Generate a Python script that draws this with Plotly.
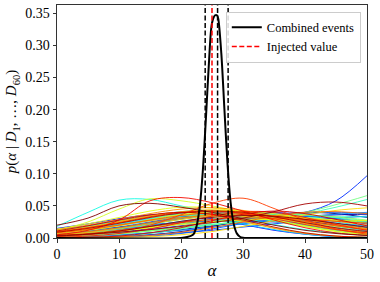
import numpy as np
import plotly.graph_objects as go

# ---- data ----
alpha_grid = [0, 5, 10, 15, 20, 25, 30, 35, 40, 45, 50]

event_posteriors = [
    [0.004, 0.007, 0.012, 0.018, 0.024, 0.029, 0.031, 0.030, 0.026, 0.021, 0.016],
    [0.000, 0.001, 0.002, 0.005, 0.010, 0.018, 0.028, 0.036, 0.040, 0.038, 0.032],
    [0.001, 0.002, 0.004, 0.008, 0.013, 0.019, 0.025, 0.030, 0.034, 0.036, 0.037],
    [0.006, 0.010, 0.016, 0.024, 0.032, 0.037, 0.038, 0.034, 0.027, 0.019, 0.012],
    [0.010, 0.013, 0.017, 0.021, 0.024, 0.026, 0.026, 0.025, 0.023, 0.021, 0.020],
    [0.004, 0.008, 0.014, 0.022, 0.030, 0.036, 0.040, 0.040, 0.036, 0.030, 0.024],
    [0.002, 0.004, 0.008, 0.013, 0.019, 0.025, 0.029, 0.031, 0.030, 0.027, 0.023],
    [0.015, 0.022, 0.030, 0.036, 0.036, 0.030, 0.021, 0.012, 0.006, 0.002, 0.001],
    [0.003, 0.005, 0.009, 0.015, 0.022, 0.029, 0.034, 0.036, 0.034, 0.029, 0.022],
    [0.009, 0.014, 0.021, 0.028, 0.033, 0.034, 0.031, 0.026, 0.020, 0.015, 0.011],
    [0.007, 0.010, 0.014, 0.018, 0.022, 0.026, 0.030, 0.034, 0.040, 0.058, 0.097],
    [0.001, 0.002, 0.003, 0.005, 0.008, 0.012, 0.017, 0.022, 0.027, 0.031, 0.034],
    [0.007, 0.011, 0.017, 0.025, 0.033, 0.039, 0.041, 0.038, 0.031, 0.023, 0.016],
    [0.000, 0.000, 0.001, 0.003, 0.007, 0.014, 0.023, 0.032, 0.038, 0.040, 0.038],
    [0.011, 0.016, 0.023, 0.031, 0.038, 0.041, 0.039, 0.032, 0.023, 0.015, 0.009],
    [0.002, 0.003, 0.005, 0.008, 0.012, 0.017, 0.022, 0.028, 0.033, 0.037, 0.040],
    [0.006, 0.010, 0.015, 0.020, 0.025, 0.029, 0.031, 0.031, 0.030, 0.028, 0.026],
    [0.013, 0.019, 0.027, 0.035, 0.041, 0.043, 0.039, 0.030, 0.020, 0.012, 0.006],
    [0.003, 0.006, 0.011, 0.018, 0.026, 0.033, 0.038, 0.039, 0.036, 0.031, 0.025],
    [0.010, 0.018, 0.027, 0.034, 0.036, 0.031, 0.022, 0.013, 0.006, 0.002, 0.001],
    [0.005, 0.009, 0.015, 0.023, 0.031, 0.037, 0.040, 0.038, 0.032, 0.025, 0.018],
    [0.010, 0.015, 0.022, 0.030, 0.036, 0.038, 0.035, 0.028, 0.020, 0.013, 0.008],
    [0.018, 0.040, 0.059, 0.060, 0.050, 0.040, 0.030, 0.021, 0.013, 0.008, 0.004],
    [0.002, 0.004, 0.007, 0.011, 0.016, 0.021, 0.026, 0.030, 0.032, 0.033, 0.033],
    [0.007, 0.012, 0.019, 0.027, 0.034, 0.038, 0.037, 0.032, 0.025, 0.018, 0.012],
    [0.003, 0.005, 0.008, 0.012, 0.016, 0.021, 0.026, 0.031, 0.038, 0.048, 0.060],
    [0.000, 0.001, 0.003, 0.007, 0.014, 0.023, 0.031, 0.036, 0.036, 0.032, 0.027],
    [0.004, 0.008, 0.014, 0.021, 0.029, 0.035, 0.038, 0.036, 0.030, 0.022, 0.015],
    [0.012, 0.018, 0.026, 0.034, 0.039, 0.039, 0.034, 0.026, 0.018, 0.011, 0.007],
    [0.002, 0.004, 0.007, 0.011, 0.015, 0.020, 0.026, 0.033, 0.040, 0.052, 0.066],
    [0.005, 0.008, 0.012, 0.017, 0.022, 0.026, 0.029, 0.030, 0.029, 0.027, 0.025],
    [0.001, 0.003, 0.006, 0.011, 0.018, 0.025, 0.031, 0.035, 0.036, 0.033, 0.028],
    [0.008, 0.013, 0.020, 0.029, 0.037, 0.042, 0.041, 0.035, 0.026, 0.017, 0.010],
    [0.008, 0.015, 0.024, 0.032, 0.036, 0.034, 0.026, 0.016, 0.008, 0.003, 0.001],
    [0.010, 0.016, 0.024, 0.033, 0.040, 0.043, 0.040, 0.032, 0.022, 0.014, 0.008],
    [0.003, 0.006, 0.010, 0.016, 0.023, 0.029, 0.033, 0.034, 0.032, 0.028, 0.023],
    [0.012, 0.025, 0.045, 0.061, 0.058, 0.050, 0.040, 0.029, 0.019, 0.011, 0.006],
    [0.014, 0.022, 0.032, 0.042, 0.048, 0.047, 0.039, 0.028, 0.018, 0.010, 0.005],
    [0.004, 0.007, 0.011, 0.016, 0.021, 0.025, 0.028, 0.029, 0.029, 0.028, 0.027],
    [0.007, 0.012, 0.019, 0.028, 0.036, 0.041, 0.042, 0.038, 0.030, 0.021, 0.013],
    [0.000, 0.000, 0.001, 0.002, 0.005, 0.010, 0.018, 0.027, 0.036, 0.043, 0.047],
    [0.011, 0.017, 0.025, 0.034, 0.041, 0.044, 0.041, 0.033, 0.023, 0.014, 0.008],
    [0.005, 0.009, 0.015, 0.022, 0.029, 0.034, 0.036, 0.035, 0.031, 0.026, 0.020],
    [0.009, 0.014, 0.020, 0.027, 0.032, 0.035, 0.034, 0.030, 0.025, 0.019, 0.014],
    [0.009, 0.016, 0.026, 0.035, 0.040, 0.036, 0.026, 0.015, 0.007, 0.003, 0.001],
    [0.013, 0.020, 0.029, 0.038, 0.045, 0.047, 0.043, 0.034, 0.023, 0.014, 0.008],
    [0.006, 0.010, 0.016, 0.024, 0.031, 0.036, 0.037, 0.034, 0.028, 0.021, 0.015],
    [0.000, 0.001, 0.002, 0.004, 0.009, 0.016, 0.025, 0.034, 0.040, 0.041, 0.038],
    [0.008, 0.013, 0.020, 0.028, 0.035, 0.039, 0.038, 0.033, 0.026, 0.019, 0.013],
    [0.004, 0.007, 0.012, 0.018, 0.024, 0.029, 0.031, 0.031, 0.029, 0.026, 0.023],
    [0.002, 0.005, 0.010, 0.020, 0.036, 0.054, 0.062, 0.046, 0.028, 0.014, 0.006],
    [0.010, 0.016, 0.024, 0.033, 0.040, 0.042, 0.038, 0.030, 0.021, 0.013, 0.008],
    [0.001, 0.003, 0.007, 0.014, 0.024, 0.034, 0.041, 0.040, 0.032, 0.021, 0.012],
    [0.005, 0.012, 0.028, 0.058, 0.063, 0.055, 0.042, 0.028, 0.016, 0.008, 0.004],
    [0.000, 0.001, 0.003, 0.008, 0.016, 0.027, 0.037, 0.042, 0.038, 0.029, 0.019],
    [0.011, 0.019, 0.028, 0.036, 0.040, 0.037, 0.028, 0.017, 0.008, 0.003, 0.001],
    [0.009, 0.015, 0.023, 0.032, 0.039, 0.042, 0.040, 0.033, 0.024, 0.016, 0.010],
    [0.004, 0.006, 0.009, 0.013, 0.018, 0.024, 0.031, 0.041, 0.053, 0.056, 0.050],
    [0.003, 0.006, 0.011, 0.018, 0.026, 0.032, 0.035, 0.034, 0.029, 0.023, 0.017],
    [0.020, 0.031, 0.050, 0.054, 0.048, 0.040, 0.030, 0.020, 0.012, 0.007, 0.004],
]

combined_alpha = [0, 20, 21, 22, 22.5, 23, 23.5, 24, 24.5, 25, 25.5, 25.8, 26,
                  26.5, 27, 27.5, 28, 28.5, 29, 29.5, 30, 31, 50]
combined_post = [0.0, 0.00006, 0.0015, 0.0057, 0.0181, 0.047, 0.102, 0.183, 0.272,
                 0.335, 0.347, 0.347, 0.342, 0.288, 0.201, 0.116, 0.0557, 0.022,
                 0.0072, 0.002, 0.00044, 0.00001, 0.0]

injected_value = 25.0
credible_bounds = [23.9, 25.9, 27.6]

x_range = [0, 50]
y_range = [0, 0.363]
y_ticks = [0.00, 0.05, 0.10, 0.15, 0.20, 0.25, 0.30, 0.35]
x_ticks = [0, 10, 20, 30, 40, 50]

SERIF = "Liberation Serif, Times New Roman, Times, serif"


def jet(t):
    r = np.interp(t, [0, 0.35, 0.66, 0.89, 1], [0, 0, 1, 1, 0.5])
    g = np.interp(t, [0, 0.125, 0.375, 0.64, 0.91, 1], [0, 0, 1, 1, 0, 0])
    b = np.interp(t, [0, 0.11, 0.34, 0.65, 1], [0.5, 1, 1, 0, 0])
    return f"rgb({int(r*255)},{int(g*255)},{int(b*255)})"


fig = go.Figure()
n = len(event_posteriors)
for i, vals in enumerate(event_posteriors):
    fig.add_trace(go.Scatter(
        x=alpha_grid, y=vals, mode="lines",
        line=dict(color=jet(i / (n - 1)), width=0.9, shape="spline", smoothing=1.0),
        showlegend=False, hoverinfo="skip"))

fig.add_trace(go.Scatter(
    x=combined_alpha, y=combined_post, mode="lines", name="Combined events",
    line=dict(color="black", width=2, shape="spline", smoothing=0.8)))

fig.add_trace(go.Scatter(
    x=[injected_value, injected_value], y=y_range, mode="lines", name="Injected value",
    line=dict(color="red", width=1.5, dash="5px,2.5px")))

for v in credible_bounds:
    fig.add_trace(go.Scatter(
        x=[v, v], y=y_range, mode="lines", showlegend=False,
        line=dict(color="black", width=1.5, dash="5px,2.5px")))

axis_common = dict(
    showgrid=False, zeroline=False, showline=True, linecolor="#333", linewidth=1,
    mirror=True, ticks="outside", ticklen=3.5, tickwidth=1, tickcolor="#333",
)

fig.update_layout(
    width=380, height=282,
    margin=dict(l=57, r=13, t=5, b=44),
    paper_bgcolor="white", plot_bgcolor="white",
    font=dict(family=SERIF, color="black", size=14),
    xaxis=dict(range=x_range, tickvals=x_ticks, **axis_common,
               tickfont=dict(family=SERIF, size=14, color="black"),
               title=dict(text="<i>α</i>", font=dict(family=SERIF, size=17), standoff=2)),
    yaxis=dict(range=y_range, tickvals=y_ticks, tickformat=".2f", **axis_common,
               tickfont=dict(family=SERIF, size=14, color="black"),
               title=dict(text="<i>p</i>(<i>α</i> | <i>D</i><sub>1</sub>, …, <i>D</i><sub>60</sub>)",
                          font=dict(family=SERIF, size=15), standoff=4)),
    legend=dict(x=0.98, y=0.972, xanchor="right", yanchor="top",
                bgcolor="rgba(255,255,255,0.85)", bordercolor="#ccc", borderwidth=1,
                font=dict(family=SERIF, size=12.5), tracegroupgap=0,
                itemwidth=30),
)

fig.write_html("out.html", config={"displayModeBar": False},
               post_script="document.body.style.margin='0';")
